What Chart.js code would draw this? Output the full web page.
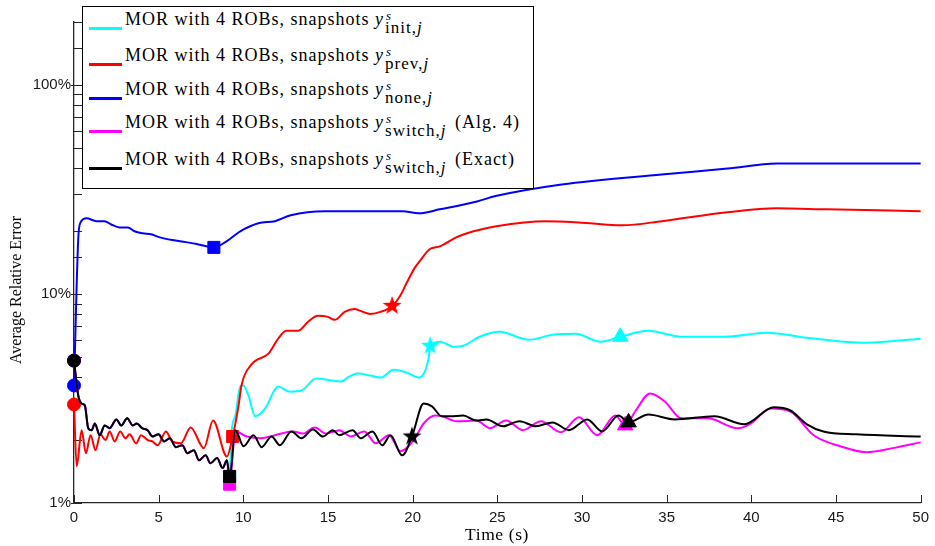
<!DOCTYPE html>
<html>
<head>
<meta charset="utf-8">
<script src="https://cdn.jsdelivr.net/npm/chart.js@4.4.0/dist/chart.umd.min.js"></script>
<style>
  html, body { margin: 0; padding: 0; background: #fff; }
  #wrap { position: relative; width: 935px; height: 546px; overflow: hidden; }
  #chart { position: absolute; left: 0; top: 0; }
  .tex { font-family: "Liberation Serif", "Times New Roman", serif; color: #000; letter-spacing: 0.6px; }
  #legend { position: absolute; left: 82px; top: 6px; width: 452px; height: 183px; box-sizing: border-box;
            border: 1.3px solid #000; background: #fff; font-size: 18px; letter-spacing: 1px; }
  .row { position: absolute; left: 0; width: 100%; height: 0; }
  .sw { position: absolute; left: 6px; top: -1px; width: 33px; height: 2.5px; }
  .txt { position: absolute; left: 42px; top: -19px; white-space: nowrap; line-height: 20px; }
  .ss { display: inline-block; position: relative; margin-left: 1px; margin-right: 3px; }
  .sp { position: absolute; left: 1px; top: -3px; font-size: 13px; font-style: italic; }
  .sb { display: inline-block; position: relative; top: 8px; font-size: 17px; letter-spacing: 1px; }
  #xtitle { position: absolute; left: 497px; top: 534px; transform: translate(-50%, -50%); font-size: 17.5px; white-space: nowrap; }
  #ytitle { position: absolute; left: 16px; top: 290px; transform: translate(-50%, -50%) rotate(-90deg); font-size: 16px; letter-spacing: 0; white-space: nowrap; }
</style>
</head>
<body>
<div id="wrap">
  <canvas id="chart" width="935" height="546"></canvas>
  <div id="legend" class="tex">
    <div class="row" style="top:21px"><div class="sw" style="background:#00ffff"></div>
      <span class="txt">MOR with 4 ROBs, snapshots <i>y</i><span class="ss"><span class="sp">s</span><span class="sb">init,<i>j</i></span></span></span></div>
    <div class="row" style="top:57px"><div class="sw" style="background:#ff0000"></div>
      <span class="txt">MOR with 4 ROBs, snapshots <i>y</i><span class="ss"><span class="sp">s</span><span class="sb">prev,<i>j</i></span></span></span></div>
    <div class="row" style="top:91px"><div class="sw" style="background:#0000ff"></div>
      <span class="txt">MOR with 4 ROBs, snapshots <i>y</i><span class="ss"><span class="sp">s</span><span class="sb">none,<i>j</i></span></span></span></div>
    <div class="row" style="top:124px"><div class="sw" style="background:#ff00ff"></div>
      <span class="txt">MOR with 4 ROBs, snapshots <i>y</i><span class="ss"><span class="sp">s</span><span class="sb">switch,<i>j</i></span></span> (Alg. 4)</span></div>
    <div class="row" style="top:161px"><div class="sw" style="background:#000000"></div>
      <span class="txt">MOR with 4 ROBs, snapshots <i>y</i><span class="ss"><span class="sp">s</span><span class="sb">switch,<i>j</i></span></span> (Exact)</span></div>
  </div>
  <div id="xtitle" class="tex">Time (s)</div>
  <div id="ytitle" class="tex">Average Relative Error</div>
</div>
<script>
// time axis (s) and average relative error (%)

// first 9 s: init, switch and exact runs lie on top of each other
const tShared = [0, 0.25, 0.45, 0.64, 0.84, 1.04, 1.23, 1.52, 1.81, 2.11, 2.50, 2.79, 3.14, 3.47, 3.71, 4.02, 4.35, 4.64, 4.99, 5.33, 5.66, 6.01, 6.40, 6.69, 7.08, 7.38, 7.77, 8.06, 8.45, 8.78, 9.03];
const vShared = [4.80, 3.27, 2.99, 2.93, 2.28, 2.23, 2.40, 2.11, 2.35, 2.28, 2.51, 2.35, 2.54, 2.35, 2.40, 2.28, 2.23, 2.08, 2.13, 1.97, 2.04, 1.85, 1.89, 1.73, 1.79, 1.60, 1.69, 1.55, 1.64, 1.47, 1.60];

const tInit = [9.19, 9.31, 9.53, 9.82, 10.01, 10.30, 10.70, 11.28, 12.06, 12.75, 13.43, 14.30, 14.99, 15.77, 16.25, 16.74, 17.52, 18.11, 18.88, 19.67, 20.36, 20.94, 21.04, 21.62, 22.41, 22.99, 23.96, 25.12, 26.87, 28.28, 29.63, 31.09, 32.26, 33.90, 35.89, 38.41, 40.93, 43.27, 46.78, 50];
const vInit = [1.34, 2.20, 2.62, 3.61, 3.65, 3.27, 2.60, 2.83, 3.61, 3.41, 3.45, 3.94, 3.88, 3.81, 4.02, 4.16, 4.07, 3.98, 4.34, 4.20, 3.98, 4.90, 5.65, 5.91, 5.59, 5.65, 6.24, 6.59, 6.04, 6.38, 6.45, 5.91, 6.24, 6.67, 6.24, 6.24, 6.52, 6.17, 5.84, 6.11];

const tPrev = [0, 0.16, 0.45, 0.70, 0.98, 1.27, 1.56, 1.86, 2.11, 2.40, 2.73, 3.04, 3.28, 3.67, 3.96, 4.35, 4.63, 4.94, 5.43, 5.80, 6.31, 6.89, 7.67, 8.21, 9.03, 9.37, 9.72, 9.89, 10.48, 11.48, 12.06, 12.53, 13.23, 13.82, 14.40, 14.99, 15.40, 15.98, 16.57, 16.92, 17.51, 18.09, 18.79, 19.26, 19.67, 20.14, 20.43, 21.02, 21.60, 22.60, 23.60, 24.94, 27.87, 29.80, 32.38, 34.72, 38.58, 41.51, 44.44, 50];
const vPrev = [2.96, 1.50, 2.23, 1.73, 2.11, 1.79, 2.13, 2.00, 2.20, 1.97, 2.20, 2.04, 2.13, 1.93, 2.11, 2.00, 1.97, 1.89, 2.20, 1.97, 1.93, 2.30, 1.83, 2.48, 1.67, 2.08, 2.93, 3.65, 4.60, 5.18, 6.11, 6.67, 6.67, 7.36, 7.86, 7.77, 7.52, 8.21, 8.48, 8.30, 8.03, 8.21, 8.77, 9.78, 11.4, 13.4, 14.4, 16.4, 16.9, 18.7, 19.95, 21.1, 22.3, 22.0, 21.3, 22.3, 24.6, 25.7, 25.4, 24.9];

const tNone = [0, 0.25, 0.39, 0.74, 1.33, 1.81, 2.20, 2.69, 3.18, 3.57, 4.06, 4.55, 5.03, 5.81, 6.60, 7.28, 8.26, 8.94, 9.82, 10.89, 11.87, 12.80, 14.80, 16.70, 18.70, 19.40, 20.36, 21.60, 23.80, 24.90, 28.80, 34.70, 38.60, 41.50, 50];
const vNone = [3.65, 18.3, 22.0, 23.0, 22.3, 22.3, 21.5, 20.8, 20.8, 19.95, 19.5, 19.3, 18.7, 18.1, 17.7, 17.3, 16.7, 17.7, 19.95, 21.8, 22.3, 23.8, 24.9, 24.9, 24.9, 24.9, 24.3, 25.4, 27.7, 29.4, 33.4, 37.3, 39.8, 42.1, 42.1];

const tSwitch = [9.19, 9.53, 10.21, 10.99, 11.58, 12.25, 12.94, 13.52, 14.21, 14.89, 15.67, 16.35, 17.14, 17.82, 18.60, 19.28, 20.06, 20.65, 21.33, 21.72, 22.60, 23.77, 24.55, 25.53, 26.50, 27.58, 28.75, 29.82, 30.90, 31.97, 32.55, 33.14, 34.02, 34.89, 35.87, 37.43, 39.19, 39.97, 41.14, 42.31, 43.68, 45.24, 46.80, 48.36, 50];
const vSwitch = [1.23, 2.20, 2.08, 2.04, 2.08, 2.15, 2.20, 2.15, 2.30, 2.15, 2.23, 2.08, 2.20, 1.93, 2.11, 1.77, 2.00, 2.40, 2.62, 2.60, 2.46, 2.48, 2.28, 2.48, 2.23, 2.46, 2.18, 2.57, 2.11, 2.62, 2.35, 2.74, 3.34, 3.06, 2.54, 2.54, 2.28, 2.40, 2.83, 2.74, 2.11, 1.87, 1.75, 1.83, 1.95];

const tExact = [9.19, 9.53, 10.01, 10.60, 11.08, 11.67, 12.16, 12.84, 13.43, 14.11, 14.70, 15.28, 15.67, 16.45, 16.94, 17.62, 18.21, 18.69, 19.38, 19.96, 20.65, 21.14, 21.72, 22.21, 22.99, 23.77, 24.36, 25.33, 26.31, 27.28, 28.26, 29.23, 30.31, 31.19, 32.16, 32.75, 33.92, 35.48, 37.82, 39.58, 41.33, 42.31, 43.28, 44.26, 46.21, 50];
const vExact = [1.34, 2.23, 1.87, 2.11, 1.85, 2.08, 1.89, 2.20, 2.04, 2.25, 2.08, 2.23, 2.11, 2.23, 2.04, 2.20, 1.89, 2.11, 1.69, 2.08, 2.99, 2.90, 2.60, 2.60, 2.62, 2.48, 2.51, 2.33, 2.46, 2.33, 2.43, 2.23, 2.51, 2.20, 2.62, 2.43, 2.65, 2.51, 2.60, 2.38, 2.87, 2.77, 2.38, 2.20, 2.13, 2.08];

// markers: [time, shape]
const marksInit   = [[0, "circle"], [9.19, "rect"], [21.04, "star"], [32.26, "triangle"]];
const marksPrev   = [[0, "circle"], [9.37, "rect"], [18.79, "star"]];
const marksNone   = [[0, "circle"], [8.26, "rect"]];
const marksSwitch = [[0, "circle"], [9.19, "rect"], [32.55, "triangle"]];
const marksExact  = [[0, "circle"], [9.19, "rect"], [19.96, "star"], [32.75, "triangle"]];

const xTicks = [0, 5, 10, 15, 20, 25, 30, 35, 40, 45, 50];
const yLabels = [1, 10, 100];

const AXIS = "#262626";
const markerSize = { circle: 6.5, rect: 8.5, triangle: 9, star: 5 };

// filled five-pointed star, like MATLAB's pentagram marker
function starCanvas(color) {
  const c = document.createElement("canvas");
  c.width = 22; c.height = 22;
  const g = c.getContext("2d");
  g.fillStyle = color;
  g.beginPath();
  for (let k = 0; k < 10; k++) {
    const r = k % 2 ? 3.9 : 10;
    const a = -Math.PI / 2 + k * Math.PI / 5;
    g.lineTo(11 + r * Math.cos(a), 11 + r * Math.sin(a));
  }
  g.closePath();
  g.fill();
  return c;
}

function series(label, color, t, v, marks, order) {
  const shapeAt = ctx => {
    const m = ctx.raw && marks.find(p => Math.abs(p[0] - ctx.raw.x) < 1e-6);
    return m ? m[1] : null;
  };
  const star = starCanvas(color);
  return {
    label,
    data: t.map((x, i) => ({ x, y: v[i] })),
    borderColor: color,
    backgroundColor: color,
    borderWidth: 2,
    cubicInterpolationMode: "monotone",
    pointStyle: ctx => { const s = shapeAt(ctx); return s === "star" ? star : (s || "circle"); },
    pointRadius: ctx => { const s = shapeAt(ctx); return s ? markerSize[s] : 0; },
    pointBorderWidth: 1,
    pointHoverRadius: 0,
    clip: false,
    order
  };
}

const inwardTicks = {
  id: "inwardTicks",
  beforeDatasetsDraw(chart) {
    const { ctx, chartArea: a, scales: { x, y } } = chart;
    ctx.save();
    ctx.strokeStyle = AXIS;
    ctx.lineWidth = 1;
    ctx.beginPath();
    y.ticks.forEach(tk => {
      const py = Math.round(y.getPixelForValue(tk.value)) + 0.5;
      if (py < a.top - 1 || py > a.bottom + 1) return;
      const major = yLabels.includes(tk.value);
      ctx.moveTo(a.left - (major ? 3 : 0), py);
      ctx.lineTo(a.left + 8, py);
    });
    x.ticks.forEach(tk => {
      const px = Math.round(x.getPixelForValue(tk.value)) + 0.5;
      ctx.moveTo(px, a.bottom);
      ctx.lineTo(px, a.bottom - 8);
    });
    ctx.stroke();
    ctx.restore();
  }
};

const tickFont = { family: "'Liberation Sans', Arial, sans-serif", size: 15 };

new Chart(document.getElementById("chart"), {
  type: "line",
  data: {
    datasets: [
      series("init",   "#00ffff", tShared.concat(tInit),   vShared.concat(vInit),   marksInit,   5),
      series("prev",   "#ff0000", tPrev,                   vPrev,                   marksPrev,   4),
      series("none",   "#0000ff", tNone,                   vNone,                   marksNone,   3),
      series("switch", "#ff00ff", tShared.concat(tSwitch), vShared.concat(vSwitch), marksSwitch, 2),
      series("exact",  "#000000", tShared.concat(tExact),  vShared.concat(vExact),  marksExact,  1)
    ]
  },
  options: {
    responsive: false,
    animation: false,
    events: [],
    layout: { padding: { left: 0, right: 9, top: 22, bottom: 0 } },
    plugins: { legend: { display: false }, tooltip: { enabled: false } },
    scales: {
      x: {
        type: "linear", min: 0, max: 50,
        afterFit: s => { s.height = 43; },
        afterBuildTicks: s => { s.ticks = xTicks.map(value => ({ value })); },
        grid: { display: false, drawTicks: false },
        border: { display: true, color: AXIS, width: 1.3 },
        ticks: { color: "#1a1a1a", font: tickFont, padding: 6, maxRotation: 0 }
      },
      y: {
        type: "logarithmic", min: 1, max: 200,
        afterFit: s => { s.width = 74; },
        grid: { display: false, drawTicks: false },
        border: { display: true, color: AXIS, width: 1.3 },
        ticks: {
          color: "#1a1a1a", font: tickFont, padding: 3, autoSkip: false,
          callback: v => yLabels.includes(v) ? v + "%" : ""
        }
      }
    }
  },
  plugins: [inwardTicks]
});
</script>
</body>
</html>
